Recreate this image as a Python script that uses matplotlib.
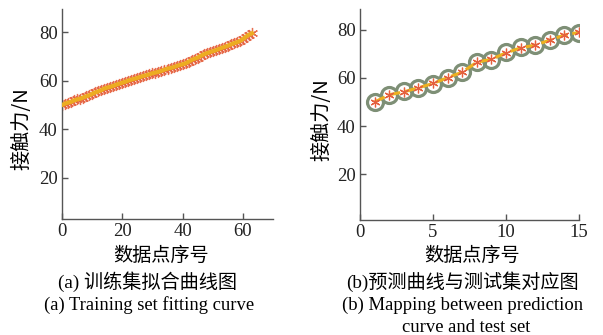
import matplotlib
matplotlib.use("Agg")
import matplotlib.pyplot as plt

# Datos
train_idx = list(range(64))
train_force = [50.0, 50.6, 51.0, 51.3, 51.9, 52.3, 52.6, 53.1, 53.6, 54.0,
               54.6, 55.2, 55.6, 56.1, 56.8, 57.2, 57.5, 57.9, 58.4, 58.8,
               59.2, 59.6, 60.1, 60.5, 60.8, 61.2, 61.6, 62.0, 62.3, 62.7,
               63.1, 63.4, 63.7, 64.1, 64.6, 65.0, 65.3, 65.6, 66.1, 66.5,
               66.8, 67.2, 67.9, 68.6, 69.1, 69.6, 70.3, 70.9, 71.4, 71.8,
               72.2, 72.6, 73.1, 73.6, 74.0, 74.5, 75.0, 75.5, 75.9, 76.4,
               77.2, 78.2, 79.0, 79.6]

test_idx = list(range(1, 16))
test_force = [50.1, 52.9, 54.4, 55.8, 57.5, 60.0, 62.6, 66.7, 67.6, 70.6,
              72.7, 73.5, 75.9, 77.9, 78.8]
pred_force = [50.0, 53.0, 54.2, 55.9, 57.7, 60.1, 62.4, 66.5, 67.8, 70.4,
              72.5, 73.6, 75.7, 77.8, 78.9]

left_xticks = [0, 20, 40, 60]
right_xticks = [0, 5, 10, 15]
yticks = [20, 40, 60, 80]

SERIF = "Liberation Serif"
CJK = ["Noto Sans CJK SC", "DejaVu Sans"]
MIXED = [SERIF, "Noto Sans CJK SC"]
LINE_C = "#EDB120"
STAR_C = "#E5603E"
CIRC_C = "#7E8F76"
AX_C = "#555555"
ASTER = (6, 2, 0)  # asterisco de 6 brazos, como el '*' de MATLAB

fig = plt.figure(figsize=(6.03, 3.35), dpi=100)
ax1 = fig.add_axes([0.1028, 0.3463, 0.3500, 0.6260])
ax2 = fig.add_axes([0.5970, 0.3433, 0.3632, 0.6290])


def style(ax, xlim, ylim, xticks):
    ax.set_xlim(*xlim)
    ax.set_ylim(*ylim)
    ax.set_xticks(xticks)
    ax.set_yticks(yticks)
    for s in ["top", "right"]:
        ax.spines[s].set_visible(False)
    for s in ["left", "bottom"]:
        ax.spines[s].set_color(AX_C)
        ax.spines[s].set_linewidth(1.0)
    ax.tick_params(direction="in", length=4, width=1, color=AX_C,
                   labelcolor="#222222", labelsize=13.5, pad=3)
    for lab in ax.get_xticklabels() + ax.get_yticklabels():
        lab.set_fontfamily(SERIF)


# (a) curva de ajuste del conjunto de entrenamiento
ax1.plot(train_idx, train_force, ls="none", marker=ASTER, ms=8,
         mec=STAR_C, mew=0.9, alpha=0.9, zorder=2)
ax1.plot(train_idx, train_force, color=LINE_C, lw=3.0, alpha=0.95, zorder=3)
style(ax1, (0, 70), (3, 89.5), left_xticks)

# (b) predicción frente al conjunto de prueba
ax2.plot(test_idx, test_force, ls="none", marker="o", ms=11.5,
         mfc="none", mec=CIRC_C, mew=2.3, zorder=2)
ax2.plot(test_idx, pred_force, color=LINE_C, lw=2.2, ls="--", zorder=3)
ax2.plot(test_idx, pred_force, ls="none", marker=ASTER, ms=7,
         mec=STAR_C, mew=0.9, zorder=4)
style(ax2, (0, 15), (1, 88.5), right_xticks)

# etiquetas de ejes
fig.text(22 / 603, 1 - 129 / 335, "接触力/N", rotation=90, ha="center",
         va="center", fontsize=14.5, family=CJK)
fig.text(322 / 603, 1 - 120 / 335, "接触力/N", rotation=90, ha="center",
         va="center", fontsize=14.5, family=CJK)
fig.text(161 / 603, 1 - 255 / 335, "数据点序号", ha="center", va="center",
         fontsize=13.8, family=CJK)
fig.text(472 / 603, 1 - 255 / 335, "数据点序号", ha="center", va="center",
         fontsize=13.8, family=CJK)

# leyendas de las subfiguras
fig.text(148 / 603, 1 - 282 / 335, "(a) 训练集拟合曲线图", ha="center",
         va="center", fontsize=13.8, family=MIXED)
fig.text(149 / 603, 1 - 305 / 335, "(a) Training set fitting curve",
         ha="center", va="center", fontsize=13.4, family=SERIF)
fig.text(462 / 603, 1 - 282 / 335, "(b)预测曲线与测试集对应图", ha="center",
         va="center", fontsize=13.8, family=MIXED)
fig.text(463 / 603, 1 - 305 / 335, "(b) Mapping between prediction",
         ha="center", va="center", fontsize=13.4, family=SERIF)
fig.text(466 / 603, 1 - 328 / 335, "curve and test set",
         ha="center", va="center", fontsize=13.4, family=SERIF)

fig.savefig("out.png", dpi=100)
